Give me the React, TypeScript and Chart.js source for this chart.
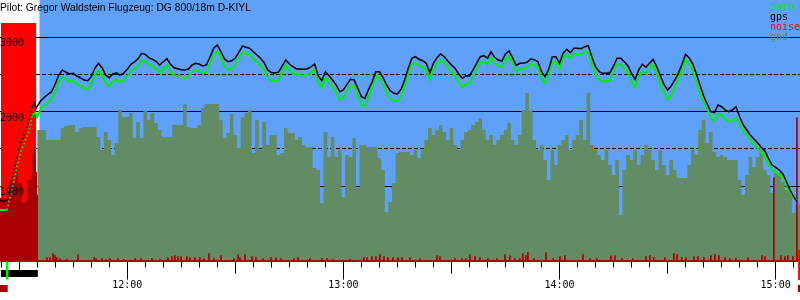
import React, { useEffect, useRef } from "react";
import { Chart, registerables } from "chart.js";

Chart.register(...registerables);

// ---------- text ----------
const TITLE = "Pilot: Gregor Waldstein Flugzeug: DG 800/18m D-KIYL";
const LEGEND = ["baro", "gps", "noise", "gnd"];

// ---------- axes ----------
const X_RANGE = ["11:24:40", "15:06:46"];
const Y_RANGE = [0, 3500];
const Y_LABEL_STEP = 1000;
const Y_DASH_STEP = 500;
const TICK_STEP = 5; // minutes

// ---------- flight (one value per minute from FLIGHT_START) ----------
const FLIGHT_START = "11:36";
const gpsAlt = [
  2147, 2193, 2233, 2268, 2371, 2492, 2560, 2529, 2506, 2515,
  2479, 2456, 2425, 2416, 2470, 2582, 2650, 2590, 2492, 2456,
  2506, 2523, 2492, 2515, 2569, 2636, 2667, 2711, 2784, 2770,
  2725, 2703, 2676, 2627, 2671, 2711, 2636, 2590, 2577, 2564,
  2560, 2573, 2627, 2650, 2636, 2613, 2627, 2738, 2851, 2895,
  2805, 2707, 2671, 2684, 2721, 2801, 2882, 2864, 2851, 2805,
  2761, 2717, 2658, 2560, 2526, 2519, 2530, 2613, 2694, 2640,
  2604, 2573, 2573, 2569, 2577, 2600, 2640, 2479, 2416, 2537,
  2483, 2425, 2358, 2268, 2291, 2367, 2435, 2425, 2314, 2201,
  2179, 2300, 2402, 2537, 2537, 2456, 2358, 2281, 2246, 2237,
  2300, 2425, 2582, 2717, 2738, 2703, 2684, 2650, 2523, 2650,
  2725, 2775, 2738, 2680, 2627, 2582, 2506, 2448, 2479, 2479,
  2560, 2650, 2738, 2752, 2717, 2805, 2730, 2694, 2680, 2775,
  2815, 2721, 2620, 2650, 2654, 2663, 2707, 2698, 2671, 2537,
  2470, 2569, 2738, 2738, 2650, 2784, 2838, 2792, 2851, 2851,
  2846, 2873, 2886, 2730, 2604, 2537, 2515, 2515, 2523, 2613,
  2717, 2717, 2671, 2613, 2515, 2435, 2560, 2636, 2596, 2650,
  2703, 2604, 2483, 2367, 2291, 2345, 2425, 2515, 2636, 2770,
  2721, 2640, 2506, 2358, 2210, 2103, 1999, 1986, 2089, 2066,
  2022, 1999, 2022, 2066, 1932, 1821, 1753, 1682, 1632, 1583,
  1521, 1475, 1373, 1283, 1252, 1216, 1162, 1059, 947, 857, 790,
];
const baroAlt = [
  2040, 2083, 2123, 2163, 2271, 2392, 2466, 2429, 2399, 2415,
  2372, 2349, 2315, 2301, 2365, 2488, 2556, 2490, 2385, 2346,
  2406, 2429, 2392, 2421, 2475, 2546, 2577, 2617, 2690, 2676,
  2631, 2609, 2576, 2520, 2577, 2626, 2536, 2490, 2477, 2457,
  2453, 2473, 2533, 2560, 2546, 2513, 2533, 2648, 2766, 2810,
  2711, 2607, 2564, 2584, 2627, 2716, 2802, 2779, 2766, 2711,
  2661, 2617, 2558, 2453, 2416, 2409, 2430, 2533, 2624, 2560,
  2524, 2493, 2488, 2484, 2497, 2525, 2570, 2389, 2322, 2457,
  2393, 2331, 2258, 2161, 2191, 2277, 2355, 2335, 2214, 2094,
  2069, 2206, 2322, 2467, 2457, 2366, 2258, 2181, 2146, 2137,
  2206, 2340, 2502, 2637, 2658, 2618, 2599, 2560, 2423, 2565,
  2645, 2695, 2658, 2595, 2537, 2482, 2396, 2328, 2369, 2379,
  2470, 2570, 2663, 2677, 2637, 2730, 2650, 2614, 2600, 2705,
  2750, 2651, 2540, 2575, 2579, 2588, 2637, 2623, 2591, 2447,
  2380, 2494, 2668, 2663, 2570, 2714, 2768, 2717, 2781, 2776,
  2771, 2798, 2806, 2636, 2504, 2430, 2405, 2408, 2423, 2528,
  2642, 2637, 2581, 2519, 2408, 2325, 2470, 2556, 2511, 2570,
  2628, 2510, 2373, 2247, 2161, 2225, 2325, 2430, 2566, 2703,
  2641, 2550, 2399, 2248, 2130, 2043, 1919, 1876, 1969, 1956,
  1902, 1869, 1882, 1916, 1822, 1741, 1683, 1615, 1565, 1516,
  1454, 1408, 1306, 1216, 1192, 1156, 1112, 1019, 917, 837, 810,
];

// ---------- ground roll and aerotow ----------
const towGpsTimes = ["11:24:40", "11:26:28", "11:27:26", "11:28:33", "11:29:23", "11:30:25", "11:31:08", "11:32:26", "11:33:30", "11:34:15", "11:34:45"];
const towGps = [800, 800, 974, 1216, 1391, 1592, 1646, 1821, 2049, 2116, 2049];
const towBaroTimes = ["11:24:40", "11:26:36", "11:27:36", "11:28:42", "11:29:30", "11:30:33", "11:31:18", "11:32:36", "11:33:42", "11:34:30", "11:34:57"];
const towBaro = [679, 679, 880, 1109, 1283, 1485, 1566, 1727, 1955, 1982, 1928];
const DOTTED = ["11:26:20", "11:33:45"];

// ---------- terrain (one value per minute from GND_START) ----------
const GND_START = "11:35";
const gndAlt = [
  1753, 1753, 1753, 1619, 1619, 1619, 1619, 1780, 1807, 1821,
  1821, 1727, 1780, 1794, 1794, 1794, 1794, 1659, 1485, 1727,
  1619, 1418, 1579, 2022, 1928, 1928, 1982, 1646, 1861, 1646,
  2009, 1888, 1982, 1847, 1753, 1659, 1659, 1659, 1821, 1821,
  1821, 2103, 1794, 1780, 1780, 1821, 2049, 2103, 2103, 2103,
  2103, 1888, 1646, 1713, 1968, 1686, 1512, 1928, 1982, 2022,
  1444, 1888, 1485, 1861, 1552, 1686, 1686, 1418, 1444, 1780,
  1713, 1713, 1619, 1659, 1552, 1525, 1525, 1243, 1216, 772,
  1727, 1391, 1659, 1391, 1485, 853, 1418, 1391, 1646, 974,
  1552, 1552, 1525, 1525, 1525, 1377, 1216, 652, 786, 1041,
  1444, 1458, 1458, 1458, 1418, 1485, 1377, 1485, 1619, 1780,
  1686, 1753, 1821, 1727, 1619, 1780, 1552, 1485, 1619, 1727,
  1753, 1821, 1861, 1915, 1753, 1619, 1686, 1552, 1619, 1686,
  1753, 1847, 1619, 1552, 1686, 2022, 2251, 2022, 1619, 1485,
  1552, 1350, 1082, 1485, 1283, 1552, 1619, 1686, 1485, 1619,
  1686, 1888, 1619, 2251, 1552, 1485, 1418, 1350, 1485, 1283,
  1149, 1350, 611, 1216, 1418, 1350, 1485, 1283, 1418, 1552,
  1485, 1350, 1216, 1485, 1283, 1149, 1350, 1216, 1109, 1109,
  1109, 1283, 1485, 1418, 1753, 1888, 1579, 1727, 1458, 1391,
  1418, 1391, 1350, 1350, 1350, 1082, 880, 1149, 1391, 1256,
  1391, 1485, 1216, 1149, 907, 1176, 1176, 1055, 947, 920,
  638, 746, 772,
];

// ---------- noise ----------
const noiseTimes = ["11:24:55", "11:34:45"];
const noiseLevel = [3190, 3190];
const enlBlockTimes = ["11:24:40", "11:27:10", "11:28:00", "11:28:49", "11:29:40", "11:30:46", "11:31:36", "11:32:10", "11:33:32", "11:33:49", "11:34:23", "11:34:39", "11:34:56", "11:35:12", "11:35:37"];
const enlBlockLevel = [773, 840, 1080, 1055, 1243, 1040, 773, 810, 1080, 1417, 1510, 1417, 1190, 880, 0];
const ENL_BASE = "11:00"; // spike times below are minutes after this
const enlSpikeMin = [
  37.71, 38.54, 39.37, 39.93, 40.48, 41.32, 43.26, 46.31, 50.75, 51.31, 52.98, 54.09, 55.2, 57.42, 59.08,
  62.14, 63.8, 66.86, 69.08, 71.3, 72.41, 73.24, 74.07, 74.91, 76.57, 77.4, 78.79, 80.18, 81.29, 82.68,
  84.07, 86.01, 89.62, 90.73, 91.28, 92.67, 94.62, 95.73, 97.67, 99.89, 101.28, 102.67, 106.27, 107.38,
  110.72, 114.05, 115.44, 117.1, 121.82, 125.7, 126.54, 127.93, 129.04, 130.15, 131.26, 132.37, 133.76,
  135.14, 136.26, 138.48, 141.25, 145.97, 146.8, 150.97, 152.91, 154.02, 155.13, 156.52, 157.91, 160.13,
  162.63, 164.85, 166.24, 167.62, 169.01, 169.84, 170.68, 171.23, 172.9, 176.23, 178.17, 180.12, 181.5,
  186.5, 188.44, 190.39, 194.27, 195.38, 197.33, 200.38, 203.99, 205.1, 206.21, 209.26, 211.76, 212.6,
  213.98, 215.09, 217.31, 218.42, 220.09, 222.03, 223.14, 224.25, 225.92, 227.31, 228.97, 232.3, 236.19,
  237.02, 239.52, 241.47, 242.58, 243.41, 244.8, 245.91,
];
const enlSpikeLevel = [
  40, 40, 94, 67, 40, 27, 13, 80, 40, 27, 27, 13, 27, 27, 13,
  27, 27, 27, 13, 40, 54, 67, 54, 54, 54, 40, 40, 40, 27, 94,
  27, 67, 27, 80, 40, 80, 54, 40, 27, 40, 40, 27, 27, 40,
  27, 27, 27, 13, 13, 40, 40, 54, 54, 80, 54, 40, 40,
  40, 40, 40, 27, 67, 54, 27, 27, 27, 80, 54, 40, 27,
  27, 80, 67, 27, 27, 94, 67, 107, 27, 107, 27, 54, 67,
  80, 27, 27, 67, 67, 27, 27, 54, 67, 40, 40, 94, 80,
  40, 40, 54, 54, 40, 67, 80, 67, 40, 27, 27, 40, 67,
  54, 1110, 67, 54, 67, 54, 1920,
];

// ---------- events below the time axis ----------
const SKY_START = "11:35:38";
const TOW = ["11:24:55", "11:35:10"];
const TAKEOFF = "11:26:40";
const LANDING = "15:06:15";
const ENGINE = [["11:24:40", "11:26:48"], ["15:06:12", "15:06:46"]];

// ---------- colours ----------
const SKY = "#5fa0f8";
const GND = "#628c64";
const BARO = "#00f000";
const GPS = "#000000";
const NOISE = "#ff0000";
const ENL = "#a80000";
const MONO = "'DejaVu Sans Mono', monospace";

const toMin = (s: string) => {
  const p = s.split(":").map(Number);
  return p[0] * 60 + p[1] + (p[2] || 0) / 60;
};
const perMinute = (start: string, values: number[]) =>
  values.map((v, i) => ({ x: toMin(start) + i, y: v }));
const pairs = (times: string[], values: number[]) =>
  times.map((t, i) => ({ x: toMin(t), y: values[i] }));
const hourLabel = (v: number) => `${Math.floor(v / 60)}:${String(Math.round(v % 60)).padStart(2, "0")}`;

const xMin = toMin(X_RANGE[0]);
const xMax = toMin(X_RANGE[1]);
const dotFrom = toMin(DOTTED[0]);
const dotTo = toMin(DOTTED[1]);
const dottedSegment = {
  borderDash: (c: any) => (c.p0.parsed.x >= dotFrom && c.p1.parsed.x <= dotTo ? [1.5, 2.5] : undefined),
};

const barogramPlugin = {
  id: "barogram",
  beforeDraw(chart: any) {
    const { ctx, chartArea, scales } = chart;
    const x0 = scales.x.getPixelForValue(toMin(SKY_START));
    ctx.save();
    ctx.fillStyle = SKY;
    ctx.fillRect(x0, 0, chart.width - x0, chartArea.bottom);
    ctx.restore();
  },
  afterDraw(chart: any) {
    const { ctx, chartArea, scales } = chart;
    const xs = scales.x;
    const ys = scales.y;
    const b = chartArea.bottom;
    const px = (s: string) => xs.getPixelForValue(toMin(s));
    ctx.save();
    // altitude labels, just under their grid lines
    ctx.fillStyle = "#000";
    ctx.font = `10px ${MONO}`;
    ctx.textAlign = "left";
    ctx.textBaseline = "middle";
    ys.ticks.forEach((t: any) => {
      ctx.fillText(String(t.value), chartArea.left, ys.getPixelForValue(t.value) + 6.5);
    });
    // time ticks: 5 min short, half hours medium, hours long
    ctx.strokeStyle = "#000";
    ctx.lineWidth = 1;
    xs.ticks.forEach((t: any) => {
      const len = t.value % 60 === 0 ? 19 : t.value % 30 === 0 ? 13 : 7;
      const p = Math.round(xs.getPixelForValue(t.value) - 0.5) + 0.5;
      ctx.beginPath();
      ctx.moveTo(p, b + 1);
      ctx.lineTo(p, b + len);
      ctx.stroke();
    });
    // event marks
    ctx.fillStyle = "#000";
    ctx.fillRect(px(TOW[0]), b + 9.5, px(TOW[1]) - px(TOW[0]), 7);
    ctx.fillStyle = BARO;
    ctx.fillRect(px(TAKEOFF) - 1.25, b + 1, 2.5, 18);
    ctx.fillStyle = NOISE;
    ctx.fillRect(px(LANDING), b - 10.5, 2.5, 30);
    ctx.fillStyle = ENL;
    ENGINE.forEach(([a, e]) => ctx.fillRect(px(a), b + 24.5, px(e) - px(a), 7));
    // title
    ctx.fillStyle = "#000";
    ctx.font = "10.3px 'Liberation Sans', Arial, sans-serif";
    ctx.textBaseline = "alphabetic";
    ctx.fillText(TITLE, 0, 11);
    // legend
    ctx.font = `10px ${MONO}`;
    LEGEND.forEach((name, i) => {
      const ds = chart.data.datasets.find((d: any) => d.label === name);
      ctx.fillStyle = ds ? ds.legendColor : "#000";
      ctx.fillText(name, 770, 10 + i * 10);
    });
    ctx.restore();
  },
};

export default function App() {
  const ref = useRef<HTMLCanvasElement>(null);
  useEffect(() => {
    document.body.style.margin = "0";
    const gpsData = [...pairs(towGpsTimes, towGps), ...perMinute(FLIGHT_START, gpsAlt)];
    const baroData = [...pairs(towBaroTimes, towBaro), ...perMinute(FLIGHT_START, baroAlt)];
    const base = toMin(ENL_BASE);
    const chart = new Chart(ref.current as HTMLCanvasElement, {
      type: "line",
      data: {
        datasets: [
          {
            label: "gps", data: gpsData, borderColor: GPS, borderWidth: 1.5, pointRadius: 0,
            fill: false, order: 1, legendColor: GPS, segment: dottedSegment,
          } as any,
          {
            label: "baro", data: baroData, borderColor: BARO, borderWidth: 2, pointRadius: 0,
            fill: false, order: 2, legendColor: BARO, segment: dottedSegment,
          } as any,
          {
            type: "bar", label: "enl", data: enlSpikeMin.map((m, i) => ({ x: base + m, y: enlSpikeLevel[i] })),
            backgroundColor: ENL, borderWidth: 0, barThickness: 1, order: 3,
          } as any,
          {
            label: "enl-start", data: pairs(enlBlockTimes, enlBlockLevel), stepped: "after",
            borderColor: "rgba(0,0,0,0)", borderWidth: 0, backgroundColor: ENL, fill: "origin", pointRadius: 0, order: 4,
          } as any,
          {
            label: "noise", data: pairs(noiseTimes, noiseLevel), stepped: "after",
            borderColor: "rgba(0,0,0,0)", borderWidth: 0, backgroundColor: NOISE, fill: "origin", pointRadius: 0,
            order: 5, legendColor: NOISE,
          } as any,
          {
            label: "gnd", data: perMinute(GND_START, gndAlt), stepped: "middle",
            borderColor: "rgba(0,0,0,0)", borderWidth: 0, backgroundColor: GND, fill: "origin", pointRadius: 0,
            order: 6, legendColor: GND,
          } as any,
        ],
      },
      options: {
        responsive: false,
        animation: false,
        devicePixelRatio: 1,
        events: [],
        layout: { padding: 0 },
        plugins: { legend: { display: false }, tooltip: { enabled: false }, title: { display: false } },
        elements: { point: { radius: 0 }, line: { tension: 0 } },
        scales: {
          x: {
            type: "linear", min: xMin, max: xMax, offset: false, z: 1,
            afterFit: (s: any) => { s.height = 39.5; },
            afterBuildTicks: (s: any) => {
              const out = [];
              for (let v = Math.ceil(xMin / TICK_STEP) * TICK_STEP; v <= xMax; v += TICK_STEP) out.push({ value: v });
              s.ticks = out;
            },
            grid: { display: true, drawOnChartArea: false, drawTicks: true, tickLength: 19, tickColor: "rgba(0,0,0,0)" },
            border: { display: true, color: ENL, width: 2 },
            ticks: {
              autoSkip: false, maxRotation: 0, padding: 0, color: "#000",
              font: { family: MONO, size: 10 },
              callback: (v: any) => (Number(v) % 60 === 0 ? hourLabel(Number(v)) : ""),
            },
          },
          y: {
            type: "linear", min: Y_RANGE[0], max: Y_RANGE[1], position: "left", z: 1,
            afterFit: (s: any) => { s.width = 0; },
            afterBuildTicks: (s: any) => {
              const out = [];
              for (let v = Y_LABEL_STEP; v < Y_RANGE[1]; v += Y_LABEL_STEP) out.push({ value: v });
              s.ticks = out;
            },
            grid: { color: "#000", lineWidth: 1, drawTicks: false },
            border: { display: false },
            ticks: { display: false },
          },
          y2: {
            type: "linear", min: Y_RANGE[0], max: Y_RANGE[1], position: "left", z: 1,
            afterFit: (s: any) => { s.width = 0; },
            afterBuildTicks: (s: any) => {
              const out = [];
              for (let v = Y_DASH_STEP; v < Y_RANGE[1]; v += Y_DASH_STEP) out.push({ value: v });
              s.ticks = out;
            },
            grid: { color: "#000", lineWidth: 1, drawTicks: false },
            border: { display: false, dash: [4, 2] },
            ticks: { display: false },
          },
        },
      } as any,
      plugins: [barogramPlugin],
    });
    return () => chart.destroy();
  }, []);
  return (
    <div style={{ width: 800, height: 300 }}>
      <canvas ref={ref} width={800} height={300} style={{ display: "block" }} />
    </div>
  );
}
